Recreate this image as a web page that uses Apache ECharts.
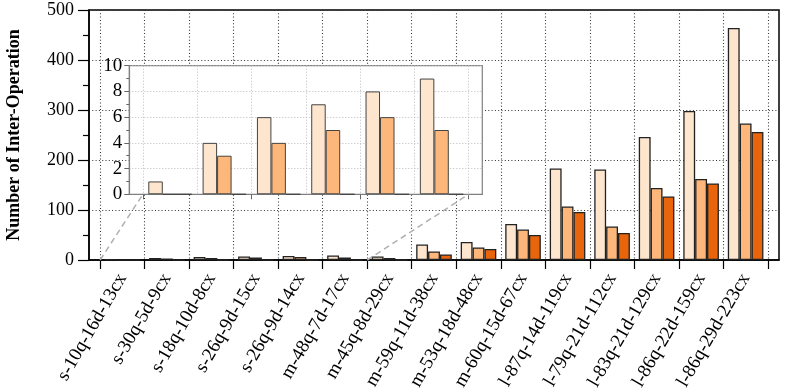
<!DOCTYPE html>
<html>
<head>
<meta charset="utf-8">
<script src="https://cdn.jsdelivr.net/npm/echarts@6/dist/echarts.min.js"></script>
<style>
    html, body { margin: 0; padding: 0; background: #fff; }
    #chart { width: 793px; height: 392px; }
</style>
</head>
<body>
<div id="chart"></div>
<script>
var categories = ['s-10q-16d-13cx', 's-30q-5d-9cx', 's-18q-10d-8cx', 's-26q-9d-15cx', 's-26q-9d-14cx',
    'm-48q-7d-17cx', 'm-45q-8d-29cx', 'm-59q-11d-38cx', 'm-53q-18d-48cx', 'm-60q-15d-67cx',
    'l-87q-14d-119cx', 'l-79q-21d-112cx', 'l-83q-21d-129cx', 'l-86q-22d-159cx', 'l-86q-29d-223cx']
var light  = [1, 4, 6, 7, 8, 9, 7, 31, 36, 72, 183, 181, 246, 298, 464]
var medium = [0, 3, 4, 5, 6, 5, 4, 17, 25, 61, 107, 67, 144, 162, 273]
var dark   = [0, 0, 0, 0, 0, 0, 0, 11, 22, 50, 96, 54, 127, 153, 256]
var insetCount = 6          // the zoomed inset shows the first 6 cases
var yMax = 500, yStep = 100
var insetYMax = 10, insetYStep = 2

var FONT = '"Liberation Serif", "Times New Roman", serif'
var colors = ['#fee6ce', '#fdb77a', '#e8650b']

// plot boxes; x range is padded by a quarter band on both sides
var mainBox = {left: 89, top: 10, width: 690, height: 250, lo: -0.75, hi: categories.length - 0.25}
var insetBox = {left: 129.3, top: 65.7, width: 353, height: 128.6, lo: -0.75, hi: insetCount - 0.25}

// grid that covers only the full bands (for ticks / labels / split lines)
function bandGrid(b, n, z) {
    var px = b.width / (b.hi - b.lo)
    return {left: b.left + (-0.5 - b.lo) * px, top: b.top, width: n * px, height: b.height,
        outerBoundsMode: 'none', z: z}
}
function pairs(arr, n) {
    return arr.slice(0, n).map(function (v, i) { return [i, v] })
}

var dotted = [1, 2.3]

var option = {
    animation: false,
    textStyle: {fontFamily: FONT},
    grid: [
        {left: mainBox.left, top: mainBox.top, width: mainBox.width, height: mainBox.height,
            show: true, borderColor: '#000', borderWidth: 1.5, outerBoundsMode: 'none'},
        bandGrid(mainBox, categories.length, 0),
        {left: insetBox.left, top: insetBox.top, width: insetBox.width, height: insetBox.height,
            show: true, backgroundColor: '#fff', borderColor: '#808080', borderWidth: 1.2,
            outerBoundsMode: 'none', z: 10},
        bandGrid(insetBox, insetCount, 10)
    ],
    xAxis: [
        {gridIndex: 0, type: 'value', min: mainBox.lo, max: mainBox.hi,
            axisLine: {show: true, onZero: false, lineStyle: {color: '#000', width: 1.5}},
            axisTick: {show: false}, axisLabel: {show: false}, splitLine: {show: false}},
        {gridIndex: 1, type: 'category', data: categories, boundaryGap: true,
            axisLine: {show: false, onZero: false},
            axisTick: {show: true, length: 9, lineStyle: {color: '#000', width: 1.2}},
            axisLabel: {interval: 0, rotate: 60, fontSize: 19, fontFamily: FONT, color: '#000', margin: 15},
            splitLine: {show: true, interval: 0, lineStyle: {color: '#333', width: 1.1, type: dotted}}},
        {gridIndex: 2, type: 'value', min: insetBox.lo, max: insetBox.hi, z: 11,
            axisLine: {show: true, onZero: false, lineStyle: {color: '#808080', width: 1.2}},
            axisTick: {show: false}, axisLabel: {show: false}, splitLine: {show: false}},
        {gridIndex: 3, type: 'category', data: categories.slice(0, insetCount), boundaryGap: true, z: 11,
            axisLine: {show: false, onZero: false},
            axisTick: {show: true, length: 5, lineStyle: {color: '#666'}},
            axisLabel: {show: false},
            splitLine: {show: true, interval: 0, lineStyle: {color: '#bbb', type: [1, 2]}}}
    ],
    yAxis: [
        {gridIndex: 0, type: 'value', min: 0, max: yMax, interval: yStep,
            name: 'Number of Inter-Operation', nameLocation: 'middle', nameGap: 66,
            nameTextStyle: {fontSize: 18, fontWeight: 'bold', fontFamily: FONT, color: '#000'},
            axisLine: {show: true, onZero: false, lineStyle: {color: '#000', width: 1.5}},
            axisTick: {show: true, length: 11, lineStyle: {color: '#000', width: 1.2}},
            minorTick: {show: true, splitNumber: 2, length: 6, lineStyle: {color: '#000', width: 1.2}},
            axisLabel: {fontSize: 18, fontFamily: FONT, color: '#000', margin: 15},
            splitLine: {show: true, lineStyle: {color: '#333', width: 1.1, type: dotted}}},
        {gridIndex: 1, type: 'value', min: 0, max: yMax, show: false},
        {gridIndex: 2, type: 'value', min: 0, max: insetYMax, interval: insetYStep, z: 11,
            axisLine: {show: true, onZero: false, lineStyle: {color: '#808080', width: 1.2}},
            axisTick: {show: true, length: 5, lineStyle: {color: '#666'}},
            minorTick: {show: true, splitNumber: 2, length: 3, lineStyle: {color: '#666'}},
            axisLabel: {fontSize: 19, fontFamily: FONT, color: '#000', margin: 7},
            splitLine: {show: true, lineStyle: {color: '#bbb', type: [1, 2]}}},
        {gridIndex: 3, type: 'value', min: 0, max: insetYMax, show: false}
    ],
    series: []
}

var groups = [light, medium, dark]
var names = ['light', 'medium', 'dark']
for (var k = 0; k < groups.length; k++) {
    option.series.push({
        name: names[k], type: 'bar', xAxisIndex: 0, yAxisIndex: 0,
        data: pairs(groups[k], categories.length),
        barGap: '0%', barCategoryGap: '20%',
        itemStyle: {color: colors[k], borderColor: '#222', borderWidth: 1.3}
    })
}
for (var k = 0; k < groups.length; k++) {
    option.series.push({
        name: names[k] + ' (zoom)', type: 'bar', xAxisIndex: 2, yAxisIndex: 2, z: 12,
        data: pairs(groups[k], insetCount),
        barGap: '0%', barCategoryGap: '20%',
        itemStyle: {color: colors[k], borderColor: '#444', borderWidth: 1}
    })
}

var chart = echarts.init(document.getElementById('chart'))
chart.setOption(option)

// dashed lines linking the zoomed range to the inset
var a0 = chart.convertToPixel({gridIndex: 0}, [-0.5, 0])
var b0 = chart.convertToPixel({gridIndex: 2}, [-0.5, 0])
var a1 = chart.convertToPixel({gridIndex: 0}, [insetCount - 0.5, 0])
var b1 = chart.convertToPixel({gridIndex: 2}, [insetCount - 0.5, 0])
var dash = {stroke: '#b0b0b0', lineWidth: 1.5, lineDash: [6, 4]}
chart.setOption({
    graphic: [
        {type: 'line', z: 20, shape: {x1: a0[0], y1: a0[1], x2: b0[0], y2: b0[1]}, style: dash},
        {type: 'line', z: 20, shape: {x1: a1[0], y1: a1[1], x2: b1[0], y2: b1[1]}, style: dash}
    ]
})
</script>
</body>
</html>
